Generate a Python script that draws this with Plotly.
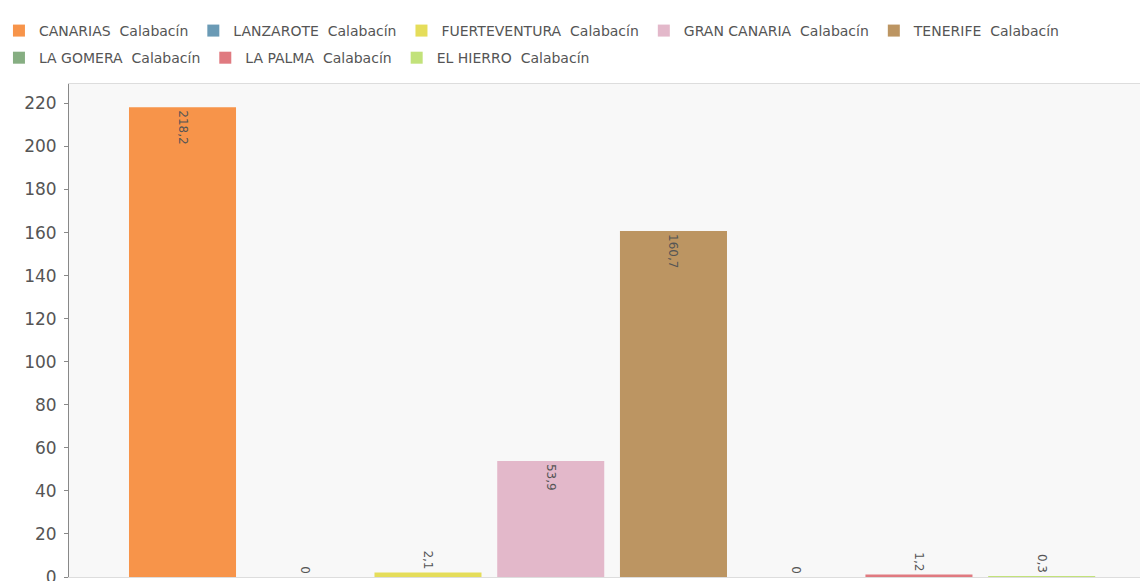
import plotly.graph_objects as go

series_names = ["CANARIAS\u00a0 Calabacín", "LANZAROTE\u00a0 Calabacín", "FUERTEVENTURA\u00a0 Calabacín",
                "GRAN CANARIA\u00a0 Calabacín", "TENERIFE\u00a0 Calabacín", "LA GOMERA\u00a0 Calabacín",
                "LA PALMA\u00a0 Calabacín", "EL HIERRO\u00a0 Calabacín"]
values = [218.2, 0, 2.1, 53.9, 160.7, 0, 1.2, 0.3]
labels = ["218,2", "0", "2,1", "53,9", "160,7", "0", "1,2", "0,3"]
colors = ["#F7944A", "#6A9AB5", "#E5DD5A", "#E3B8CA", "#BC9562", "#86AE82", "#E07A80", "#C2E27A"]
legend_row = ["legend", "legend", "legend", "legend", "legend", "legend2", "legend2", "legend2"]
category = ["Calabacín"]

label_font = dict(family="DejaVu Sans", size=12, color="#555555")

fig = go.Figure()
for name, v, lab, c, lg in zip(series_names, values, labels, colors, legend_row):
    fig.add_trace(go.Bar(
        x=category, y=[v], name=name, marker=dict(color=c, line=dict(width=0)),
        text=[lab], textposition=("auto" if v > 0 else "outside"),
        textangle=90, insidetextanchor="end",
        textfont=label_font, outsidetextfont=label_font, insidetextfont=label_font,
        cliponaxis=False, legend=lg,
    ))

legend_font = dict(family="DejaVu Sans", size=14, color="#555555")
fig.update_layout(
    width=1142, height=581,
    barmode="group", bargap=0.096, bargroupgap=0.128,
    margin=dict(l=69, r=2, t=84, b=4, autoexpand=False),
    paper_bgcolor="white", plot_bgcolor="#f8f8f8",
    showlegend=True,
    legend=dict(orientation="h", x=-0.0654, y=1.140, xanchor="left", yanchor="top",
                font=legend_font, itemwidth=30, traceorder="normal"),
    legend2=dict(orientation="h", x=-0.0654, y=1.085, xanchor="left", yanchor="top",
                 font=legend_font, itemwidth=30, traceorder="normal"),
    xaxis=dict(showticklabels=False, showgrid=False, zeroline=False,
               showline=True, linecolor="#dddddd", linewidth=1, mirror=True,
               range=[-0.5, 0.486]),
    yaxis=dict(range=[0, 229], dtick=20, showgrid=False, zeroline=False,
               showline=True, linecolor="#888888", linewidth=1,
               ticks="outside", ticklen=4, tickcolor="#888888",
               ticklabeloverflow="allow", ticklabelstandoff=4,
               tickfont=dict(family="DejaVu Sans", size=17, color="#555555")),
)

fig.write_html("out.html", config={"displayModeBar": False},
               post_script="document.body.style.margin='0';")
